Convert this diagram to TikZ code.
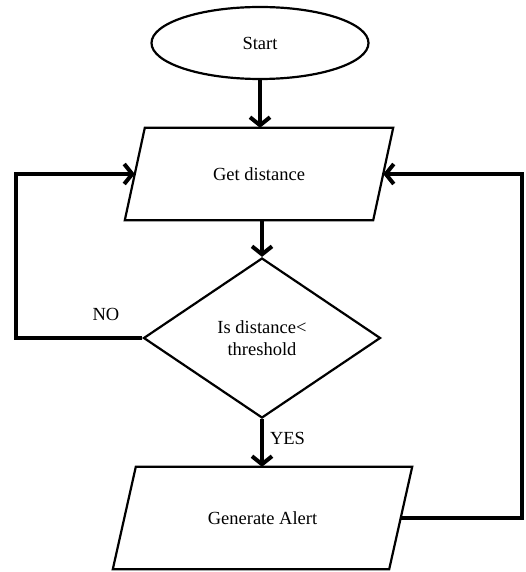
\documentclass[tikz,border=0pt]{standalone}
\usepackage{fontspec}
\setmainfont{Liberation Serif}
\usetikzlibrary{shapes.geometric,arrows.meta}
\begin{document}
\begin{tikzpicture}[x=1pt,y=-1pt,
  every node/.style={font=\fontsize{18.5}{21.7}\selectfont, inner sep=0pt},
  shapebox/.style={draw, line width=2.2pt, line join=miter},
  conn/.style={line width=4pt, line join=miter, -{Straight Barb[length=8pt,width=20pt]}}]
\useasboundingbox (0,0) rectangle (525,572);
\node[shapebox, ellipse, minimum width=217pt, minimum height=72pt] (start) at (260,43) {Start};
% Get distance (parallelogram drawn around a rectangle node)
\node[minimum width=248pt, minimum height=92pt] (gd) at (259,174) {Get distance};
\draw[shapebox] ([xshift=-10pt]gd.south west) -- ([xshift=10pt]gd.north west)
  -- ([xshift=10pt]gd.north east) -- ([xshift=-10pt]gd.south east) -- cycle;
\node[shapebox, diamond, minimum width=237pt, minimum height=160pt, align=center] (dia) at (262,338) {Is distance<\\threshold};
% Generate Alert
\node[minimum width=276pt, minimum height=102pt] (ga) at (262.5,518) {Generate Alert};
\draw[shapebox] ([xshift=-11.5pt]ga.south west) -- ([xshift=11.5pt]ga.north west)
  -- ([xshift=11.5pt]ga.north east) -- ([xshift=-11.5pt]ga.south east) -- cycle;
\coordinate (lft) at (16,338);
\coordinate (rgt) at (522,518);
\draw[conn] (start.south) -- (start.south |- gd.north);
\draw[conn] (gd.south -| dia.north) -- (dia.north);
\draw[conn] (dia.south) -- node[right=6pt, pos=0.4] (yes) {YES} (ga.north -| dia.south);
\draw[conn] (dia.west) -- (lft) |- (gd.west);
\draw[conn] (ga.east) -- (rgt) |- (gd.east);
\node (no) at (106,314) {NO};
\end{tikzpicture}
\end{document}
